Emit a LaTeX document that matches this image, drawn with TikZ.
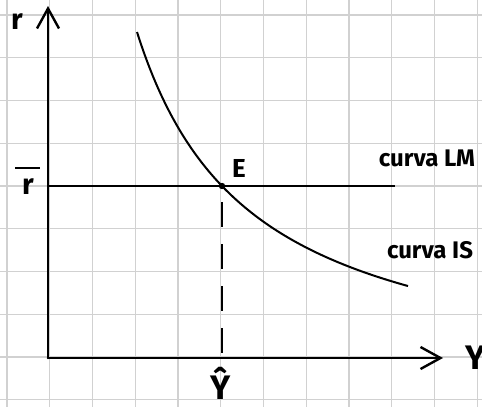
\documentclass[tikz,border=0pt]{standalone}
\usepackage{fontspec}
\setmainfont{Fira Sans}
\usetikzlibrary{arrows.meta}
\tikzset{
  gridline/.style={draw=black!18, line width=1.3pt},
  axisline/.style={draw=black, line width=2.6pt, line cap=round,
    -{Straight Barb[length=20pt,width=22pt,line width=2.4pt]}},
  curveline/.style={draw=black, line width=2pt},
  dashline/.style={draw=black, line width=2.4pt, dash pattern=on 25pt off 17pt, dash phase=26pt},
  lbl/.style={font=\bfseries\fontsize{24}{24}\selectfont, inner sep=0pt},
  biglbl/.style={font=\bfseries\fontsize{34}{34}\selectfont, inner sep=0pt}
}
\begin{document}
\begin{tikzpicture}[x=1pt,y=-1pt]
\useasboundingbox (0,0) rectangle (482,407);
\fill[white] (0,0) rectangle (482,407);
% grid
\foreach \i in {0,...,11} \draw[gridline] ({7+42.75*\i},0) -- ({7+42.75*\i},407);
\foreach \j in {0,...,9} \draw[gridline] (0,{15+42.75*\j}) -- (482,{15+42.75*\j});
% key points
\coordinate (O) at (48,358);
\coordinate (ytop) at (48,6);
\coordinate (xend) at (443,358);
\coordinate (rl) at (48,186);
\coordinate (lmend) at (395,186);
\coordinate (E) at (222,186);
% axes
\draw[axisline] (O) -- (ytop);
\draw[axisline] (O) -- (xend);
% LM line
\draw[curveline, line width=2.4pt] (rl) -- (lmend);
% dashed
\draw[dashline] (E) -- (E |- O);
% IS curve (hyperbola)
\draw[curveline] plot[domain=137:408, samples=80, smooth] (\x, {393.2 - 413.01/((\x-22.65)/100)});
\fill (E) circle (3.2);
% labels
\node[lbl, font=\bfseries\fontsize{29}{29}\selectfont] (rlab) at (17,22) {r};
\node[lbl, font=\bfseries\fontsize{29}{29}\selectfont] (rbar) at (28,187) {r};
\draw[line width=2.4pt] (15,168) -- (40,168);
\node[lbl, font=\bfseries\fontsize{26}{26}\selectfont] (Elab) at (239,168) {E};
\node[lbl] (lm) at (427,158) {curva LM};
\node[lbl] (is) at (430,250) {curva IS};
\node[biglbl, anchor=west] (Ylab) at (465,358) {Y};
\node[biglbl] (Yhat) at (221,383) {Ŷ};
\end{tikzpicture}
\end{document}
